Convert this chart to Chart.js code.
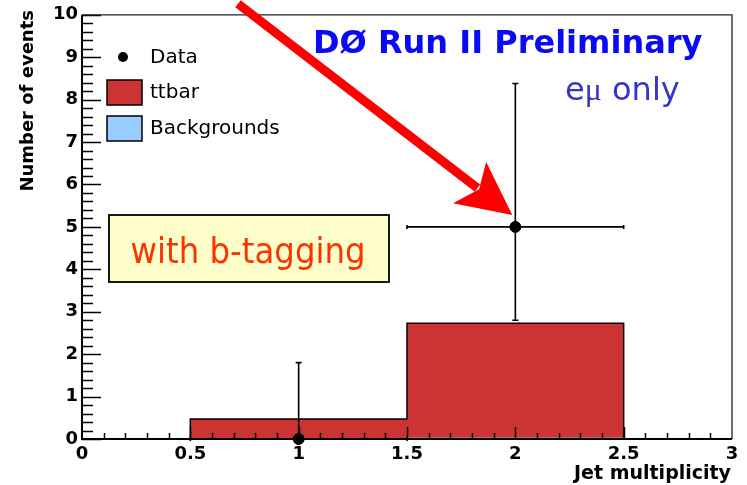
<!DOCTYPE html>
<html>
<head>
<meta charset="utf-8">
<script src="https://cdn.jsdelivr.net/npm/chart.js@4.4.0/dist/chart.umd.min.js"></script>
<style>
  html, body { margin: 0; padding: 0; background: #fff; }
</style>
</head>
<body>
<canvas id="jets" width="747" height="485"></canvas>
<script>
//------------------ DONNEES ------------------
const binEdges = [0.5, 1.5, 2.5];
const ttbarEvents = [0.47, 2.71];
const bkgEvents = [0.0, 0.02];

const dataJets = [1, 2];
const dataEvents = [0, 5];
const dataErrLow = [0, 2.8];
const dataErrHigh = [1.8, 8.38];
const dataXLow = [0.5, 1.5];
const dataXHigh = [1.5, 2.5];

const xTickLabels = ['0', '0.5', '1', '1.5', '2', '2.5', '3'];
const yTickLabels = ['0', '1', '2', '3', '4', '5', '6', '7', '8', '9', '10'];

//------------------ HISTO EN ESCALIER ------------------
function histoSteps(values) {
    const pts = [{ x: binEdges[0], y: 0 }];
    values.forEach((v, i) => pts.push({ x: binEdges[i], y: v }));
    pts.push({ x: binEdges[binEdges.length - 1], y: 0 });
    return pts;
}

// ttbar est empilé au dessus des backgrounds
const stackTotal = ttbarEvents.map((v, i) => v + bkgEvents[i]);

const FONT = 'DejaVu Sans';

//------------------ BARRES D'ERREUR ------------------
const errorBars = {
    id: 'errorBars',
    beforeDatasetDraw(chart, args) {
        if (args.index !== 0) return;
        const ctx = chart.ctx;
        const xs = chart.scales.x, ys = chart.scales.y;
        ctx.save();
        ctx.strokeStyle = '#000';
        ctx.lineWidth = 1.6;
        dataJets.forEach((j, i) => {
            const px = xs.getPixelForValue(j);
            const py = ys.getPixelForValue(dataEvents[i]);
            const yLo = ys.getPixelForValue(dataErrLow[i]);
            const yHi = ys.getPixelForValue(dataErrHigh[i]);
            const xLo = xs.getPixelForValue(dataXLow[i]);
            const xHi = xs.getPixelForValue(dataXHigh[i]);
            ctx.beginPath();
            ctx.moveTo(px, yLo); ctx.lineTo(px, yHi);
            ctx.moveTo(xLo, py); ctx.lineTo(xHi, py);
            // petits traits aux bouts
            ctx.moveTo(px - 3, yHi); ctx.lineTo(px + 3, yHi);
            if (dataErrLow[i] > 0) { ctx.moveTo(px - 3, yLo); ctx.lineTo(px + 3, yLo); }
            ctx.moveTo(xLo, py - 2); ctx.lineTo(xLo, py + 2);
            ctx.moveTo(xHi, py - 2); ctx.lineTo(xHi, py + 2);
            ctx.stroke();
        });
        ctx.restore();
    }
};

//------------------ CADRE + GRADUATIONS (style ROOT) ------------------
const rootFrame = {
    id: 'rootFrame',
    afterDatasetsDraw(chart) {
        const ctx = chart.ctx;
        const a = chart.chartArea;
        const xs = chart.scales.x, ys = chart.scales.y;
        ctx.save();
        ctx.strokeStyle = '#000';

        // graduations vers l'interieur
        ctx.lineWidth = 1.5;
        ctx.beginPath();
        ys.ticks.forEach(t => {
            const py = Math.round(ys.getPixelForValue(t.value)) + 0.5;
            const major = Math.abs(t.value - Math.round(t.value)) < 1e-6;
            ctx.moveTo(a.left, py);
            ctx.lineTo(a.left + (major ? 19 : 11), py);
        });
        xs.ticks.forEach(t => {
            if (t.value <= 0 || t.value >= 3) return;
            const px = Math.round(xs.getPixelForValue(t.value)) + 0.5;
            const major = Math.abs(t.value * 2 - Math.round(t.value * 2)) < 1e-6;
            ctx.moveTo(px, a.bottom);
            ctx.lineTo(px, a.bottom - (major ? 12 : 6));
        });
        ctx.stroke();

        // haut et droite
        ctx.lineWidth = 1.3;
        ctx.strokeStyle = '#222';
        ctx.beginPath();
        ctx.moveTo(a.left, a.top); ctx.lineTo(a.right, a.top); ctx.lineTo(a.right, a.bottom);
        ctx.stroke();

        // axes gauche et bas
        ctx.lineWidth = 2;
        ctx.strokeStyle = '#000';
        ctx.beginPath();
        ctx.moveTo(a.left, a.top); ctx.lineTo(a.left, a.bottom); ctx.lineTo(a.right, a.bottom);
        ctx.stroke();
        ctx.restore();
    },

    afterDraw(chart) {
        const ctx = chart.ctx;
        const xs = chart.scales.x, ys = chart.scales.y;
        const ds = chart.data.datasets;
        ctx.save();

        // titres des axes
        ctx.fillStyle = '#000';
        ctx.font = 'bold 18px "' + FONT + '"';
        ctx.textBaseline = 'middle';
        ctx.save();
        ctx.translate(28, 10);
        ctx.rotate(-Math.PI / 2);
        ctx.textAlign = 'right';
        ctx.fillText('Number of events', 0, 0);
        ctx.restore();

        ctx.font = 'bold 19px "' + FONT + '"';
        ctx.textAlign = 'right';
        ctx.textBaseline = 'alphabetic';
        ctx.fillText('Jet multiplicity', 731, 479);

        // legende
        ctx.font = '20px "' + FONT + '"';
        ctx.textAlign = 'left';
        ctx.textBaseline = 'middle';
        ctx.beginPath();
        ctx.arc(123, 57, 5, 0, Math.PI * 2);
        ctx.fill();
        ctx.fillText(ds[0].label, 150, 58);

        ctx.lineWidth = 1.5;
        ctx.strokeStyle = '#000';
        ctx.fillStyle = ds[1].backgroundColor;
        ctx.fillRect(107, 80, 35, 25);
        ctx.strokeRect(107, 80, 35, 25);
        ctx.fillStyle = '#000';
        ctx.fillText(ds[1].label, 150, 93);

        ctx.fillStyle = ds[2].backgroundColor;
        ctx.fillRect(107, 116, 35, 25);
        ctx.strokeRect(107, 116, 35, 25);
        ctx.fillStyle = '#000';
        ctx.fillText(ds[2].label, 150, 129);

        // encadre jaune
        ctx.fillStyle = '#ffffcc';
        ctx.fillRect(109, 215, 280, 67);
        ctx.lineWidth = 1.8;
        ctx.strokeRect(109, 215, 280, 67);
        ctx.fillStyle = '#ff3300';
        ctx.font = '36px "' + FONT + '"';
        ctx.textAlign = 'center';
        ctx.textBaseline = 'alphabetic';
        ctx.save();
        ctx.translate(248, 263);
        ctx.scale(0.9, 1);
        ctx.fillText('with b-tagging', 0, 0);
        ctx.restore();

        // textes en bleu
        ctx.textAlign = 'left';
        ctx.fillStyle = '#0a0af5';
        ctx.font = 'bold 32px "' + FONT + '"';
        ctx.fillText('DØ Run II Preliminary', 313, 53);

        ctx.fillStyle = '#3535c8';
        ctx.font = '32px "' + FONT + '"';
        let x = 565;
        ctx.fillText('e', x, 100);
        x += ctx.measureText('e').width;
        ctx.font = '32px "Liberation Serif"';
        ctx.fillText('μ', x, 100);
        x += ctx.measureText('μ').width;
        ctx.font = '32px "' + FONT + '"';
        ctx.fillText(' only', x, 100);

        // fleche rouge vers le point a 2 jets
        const tip = { x: xs.getPixelForValue(dataJets[1]) - 3, y: ys.getPixelForValue(dataEvents[1]) - 12 };
        const tail = { x: xs.getPixelForValue(0.72), y: ys.getPixelForValue(10.26) };
        const len = Math.hypot(tip.x - tail.x, tip.y - tail.y);
        const ux = (tip.x - tail.x) / len, uy = (tip.y - tail.y) / len;
        const nx = -uy, ny = ux;
        const at = (u, n) => [tip.x + ux * u + nx * n, tip.y + uy * u + ny * n];

        ctx.strokeStyle = '#ff0000';
        ctx.fillStyle = '#ff0000';
        ctx.lineWidth = 9;
        ctx.beginPath();
        ctx.moveTo(tail.x, tail.y);
        ctx.lineTo(...at(-44, 0));
        ctx.stroke();
        ctx.beginPath();
        ctx.moveTo(tip.x, tip.y);
        ctx.lineTo(...at(-54, 27));
        ctx.lineTo(...at(-42, 0));
        ctx.lineTo(...at(-53, -26));
        ctx.closePath();
        ctx.fill();

        ctx.restore();
    }
};

//------------------ GRAPHIQUE ------------------
const ctx = document.getElementById('jets').getContext('2d');

new Chart(ctx, {
    type: 'scatter',
    data: {
        datasets: [
            {
                label: 'Data',
                data: dataJets.map((j, i) => ({ x: j, y: dataEvents[i] })),
                backgroundColor: '#000',
                borderColor: '#000',
                pointRadius: 5.5,
                pointHoverRadius: 5.5,
                clip: false,
                order: 0
            },
            {
                type: 'line',
                label: 'ttbar',
                data: histoSteps(stackTotal),
                stepped: true,
                fill: 'origin',
                backgroundColor: '#cc3333',
                borderColor: '#000',
                borderWidth: 1.5,
                pointRadius: 0,
                order: 2
            },
            {
                type: 'line',
                label: 'Backgrounds',
                data: histoSteps(bkgEvents),
                stepped: true,
                fill: 'origin',
                backgroundColor: '#99ccff',
                borderColor: '#99ccff',
                borderWidth: 1,
                pointRadius: 0,
                order: 1
            }
        ]
    },
    plugins: [errorBars, rootFrame],
    options: {
        responsive: false,
        animation: false,
        devicePixelRatio: 1,
        layout: { padding: { left: 0, right: 15, top: 13, bottom: 0 } },
        scales: {
            x: {
                type: 'linear',
                min: 0,
                max: 3,
                grid: { display: false, drawTicks: false },
                border: { display: false },
                ticks: {
                    stepSize: 0.1,
                    autoSkip: false,
                    maxRotation: 0,
                    padding: 5,
                    color: '#000',
                    font: { family: FONT, weight: 'bold', size: 18 },
                    callback: function (v) {
                        const k = Math.round(v * 10);
                        return k % 5 === 0 ? xTickLabels[k / 5] : '';
                    }
                },
                afterFit: function (scale) { scale.height = 46; }
            },
            y: {
                type: 'linear',
                min: 0,
                max: 10,
                grid: { display: false, drawTicks: false },
                border: { display: false },
                ticks: {
                    stepSize: 0.2,
                    autoSkip: false,
                    padding: 4,
                    color: '#000',
                    font: { family: FONT, weight: 'bold', size: 18 },
                    callback: function (v) {
                        const k = Math.round(v * 5);
                        return k % 5 === 0 ? yTickLabels[k / 5] : '';
                    }
                },
                afterFit: function (scale) { scale.width = 82; }
            }
        },
        plugins: {
            legend: { display: false },
            tooltip: { enabled: false }
        }
    }
});
</script>
</body>
</html>
